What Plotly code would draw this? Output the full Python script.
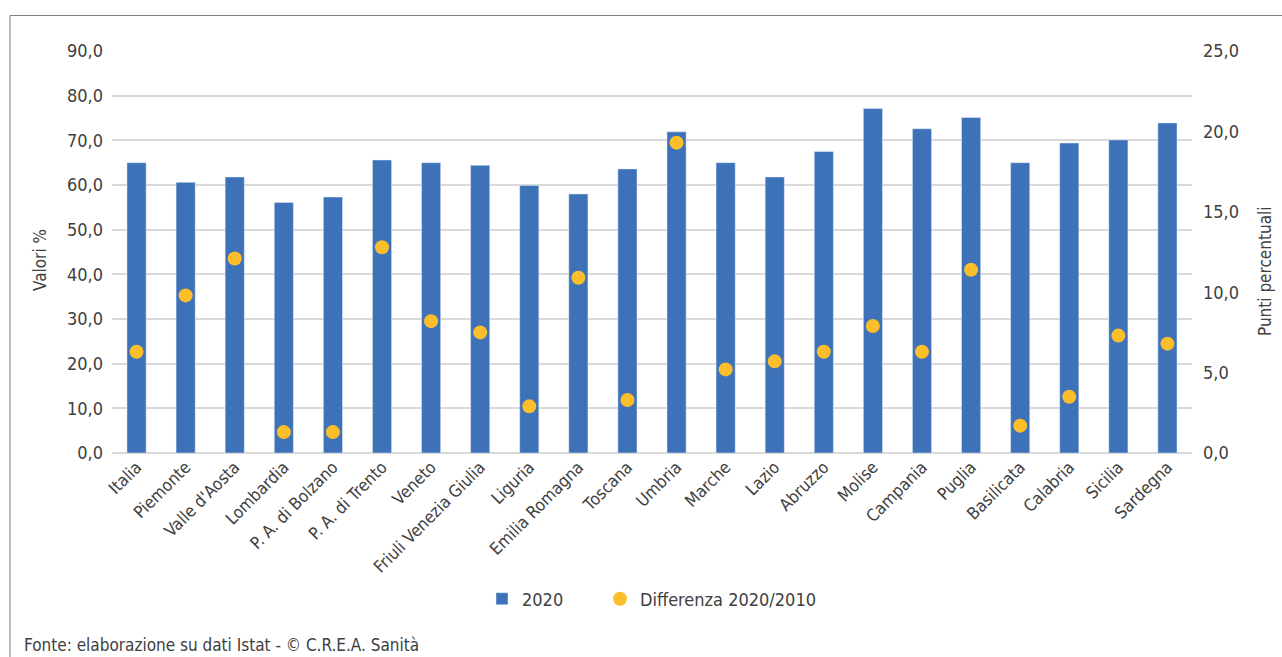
import plotly.graph_objects as go

regions = ["Italia", "Piemonte", "Valle d'Aosta", "Lombardia", "P. A. di Bolzano",
           "P. A. di Trento", "Veneto", "Friuli Venezia Giulia", "Liguria",
           "Emilia Romagna", "Toscana", "Umbria", "Marche", "Lazio", "Abruzzo",
           "Molise", "Campania", "Puglia", "Basilicata", "Calabria", "Sicilia", "Sardegna"]
values_2020 = [65.0, 60.6, 61.8, 56.1, 57.3, 65.6, 65.0, 64.4, 59.9, 58.0, 63.6,
               71.9, 65.0, 61.8, 67.5, 77.1, 72.6, 75.1, 65.0, 69.4, 70.1, 73.9]
diff_2020_2010 = [6.3, 9.8, 12.1, 1.3, 1.3, 12.8, 8.2, 7.5, 2.9, 10.9, 3.3,
                  19.3, 5.2, 5.7, 6.3, 7.9, 6.3, 11.4, 1.7, 3.5, 7.3, 6.8]

FONT = "Liberation Sans Narrow, DejaVu Sans Condensed, Arial Narrow, sans-serif"
TXT = "#404040"

W, H = 1282, 657
L, R, T, B = 112, 90, 51, 204
pw, ph = W - L - R, H - T - B

def px(x):
    return (x - L) / pw

def py(y):
    return (H - B - y) / ph

fig = go.Figure()
fig.add_trace(go.Bar(x=regions, y=values_2020, name="2020",
                     marker=dict(color="#3D72B9"), width=0.39, yaxis="y",
                     legend="legend"))
fig.add_trace(go.Scatter(x=regions, y=diff_2020_2010, name="Differenza 2020/2010",
                         mode="markers", marker=dict(color="#FDBE2B", size=14),
                         yaxis="y2", legend="legend2"))

legfont = dict(family=FONT, size=18, color=TXT)
fig.update_layout(
    width=W, height=H,
    margin=dict(l=L, r=R, t=T, b=B, autoexpand=False),
    paper_bgcolor="white", plot_bgcolor="white",
    separators=",.",
    font=dict(family=FONT, size=16, color=TXT),
    showlegend=True,
    legend=dict(orientation="h", x=px(482), y=py(599), xanchor="left", yanchor="middle",
                font=legfont, itemwidth=30, bgcolor="rgba(0,0,0,0)"),
    legend2=dict(orientation="h", x=px(600), y=py(599), xanchor="left", yanchor="middle",
                 font=legfont, itemwidth=30, bgcolor="rgba(0,0,0,0)"),
    xaxis=dict(range=[-0.5, len(regions) - 0.5], tickangle=-45,
               tickfont=dict(family=FONT, size=17, color=TXT),
               showgrid=False, showline=False, ticks="", zeroline=False, automargin=False),
    yaxis=dict(range=[0, 90], dtick=10, tickformat=".1f",
               showgrid=True, gridcolor="#D9D9D9", gridwidth=1.5,
               zeroline=True, zerolinecolor="#D9D9D9", zerolinewidth=1.5,
               tickfont=dict(family=FONT, size=18, color=TXT), ticklabelstandoff=8,
               ticks="", showline=False, automargin=False),
    yaxis2=dict(range=[0, 25], dtick=5, tickformat=".1f", overlaying="y", side="right",
                showgrid=False, zeroline=False, showline=False, ticks="",
                tickfont=dict(family=FONT, size=18, color=TXT), ticklabelstandoff=10,
                automargin=False),
    bargap=0.61,
)

fig.add_annotation(text="Valori %", xref="paper", yref="paper", x=px(40), y=py(260),
                   textangle=-90, showarrow=False, xanchor="center", yanchor="middle",
                   font=dict(family=FONT, size=17, color=TXT))
fig.add_annotation(text="Punti percentuali", xref="paper", yref="paper", x=px(1265), y=py(271),
                   textangle=-90, showarrow=False, xanchor="center", yanchor="middle",
                   font=dict(family=FONT, size=17, color=TXT))

fig.add_shape(type="rect", xref="paper", yref="paper",
              x0=px(10), x1=px(1300), y0=py(700), y1=py(15.5),
              line=dict(color="#7F7F7F", width=1), fillcolor="rgba(0,0,0,0)", layer="below")

fig.add_annotation(text="Fonte: elaborazione su dati Istat - © C.R.E.A. Sanità",
                   xref="paper", yref="paper", x=px(22), y=py(645),
                   xanchor="left", yanchor="middle", showarrow=False,
                   font=dict(family=FONT, size=17, color=TXT))

fig.write_html("out.html")
